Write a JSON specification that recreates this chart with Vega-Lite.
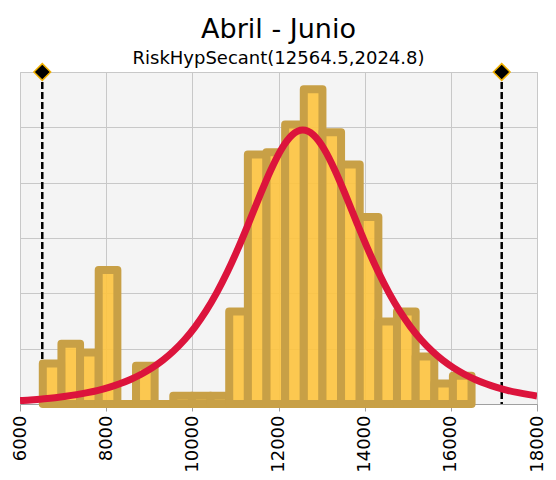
{
  "$schema": "https://vega.github.io/schema/vega-lite/v6.json",
  "autosize": "none",
  "width": 517,
  "height": 332,
  "padding": {"left": 20, "top": 72, "right": 19, "bottom": 76},
  "background": "white",
  "title": {
    "text": "Abril - Junio",
    "subtitle": "RiskHypSecant(12564.5,2024.8)",
    "font": "DejaVu Sans",
    "fontSize": 27,
    "fontWeight": "normal",
    "color": "black",
    "subtitleFont": "DejaVu Sans",
    "subtitleFontSize": 18,
    "subtitleColor": "black",
    "subtitlePadding": 6,
    "offset": -8,
    "anchor": "middle"
  },
  "config": {
    "view": {"fill": "#F4F4F4", "stroke": "#C8C8C8", "strokeWidth": 1},
    "axis": {"gridColor": "#C8C8C8", "gridWidth": 1, "gridOpacity": 1}
  },
  "datasets": {
    "bins": [
      {"b0": 6529, "b1": 6962, "v": 0.73},
      {"b0": 6962, "b1": 7394, "v": 1.09},
      {"b0": 7394, "b1": 7827, "v": 0.93},
      {"b0": 7827, "b1": 8260, "v": 2.42},
      {"b0": 8260, "b1": 8693, "v": 0},
      {"b0": 8693, "b1": 9125, "v": 0.69},
      {"b0": 9125, "b1": 9558, "v": 0},
      {"b0": 9558, "b1": 9991, "v": 0.15},
      {"b0": 9991, "b1": 10423, "v": 0.15},
      {"b0": 10423, "b1": 10856, "v": 0.15},
      {"b0": 10856, "b1": 11289, "v": 1.67},
      {"b0": 11289, "b1": 11721, "v": 4.51},
      {"b0": 11721, "b1": 12154, "v": 4.55},
      {"b0": 12154, "b1": 12587, "v": 5.05},
      {"b0": 12587, "b1": 13020, "v": 5.69},
      {"b0": 13020, "b1": 13452, "v": 4.91},
      {"b0": 13452, "b1": 13885, "v": 4.33},
      {"b0": 13885, "b1": 14318, "v": 3.38},
      {"b0": 14318, "b1": 14750, "v": 1.49},
      {"b0": 14750, "b1": 15183, "v": 1.67},
      {"b0": 15183, "b1": 15616, "v": 0.86},
      {"b0": 15616, "b1": 16048, "v": 0.37},
      {"b0": 16048, "b1": 16481, "v": 0.51}
    ],
    "curve": [
      {"x": 6000, "y": 0.061},
      {"x": 6064.5, "y": 0.064},
      {"x": 6314.5, "y": 0.078},
      {"x": 6564.5, "y": 0.094},
      {"x": 6814.5, "y": 0.114},
      {"x": 7064.5, "y": 0.139},
      {"x": 7314.5, "y": 0.169},
      {"x": 7564.5, "y": 0.205},
      {"x": 7814.5, "y": 0.248},
      {"x": 8064.5, "y": 0.301},
      {"x": 8314.5, "y": 0.366},
      {"x": 8564.5, "y": 0.444},
      {"x": 8814.5, "y": 0.538},
      {"x": 9064.5, "y": 0.652},
      {"x": 9314.5, "y": 0.790},
      {"x": 9564.5, "y": 0.957},
      {"x": 9814.5, "y": 1.156},
      {"x": 10064.5, "y": 1.395},
      {"x": 10314.5, "y": 1.677},
      {"x": 10564.5, "y": 2.008},
      {"x": 10814.5, "y": 2.389},
      {"x": 11064.5, "y": 2.817},
      {"x": 11314.5, "y": 3.282},
      {"x": 11564.5, "y": 3.761},
      {"x": 11814.5, "y": 4.216},
      {"x": 12064.5, "y": 4.600},
      {"x": 12314.5, "y": 4.858},
      {"x": 12564.5, "y": 4.950},
      {"x": 12814.5, "y": 4.858},
      {"x": 13064.5, "y": 4.600},
      {"x": 13314.5, "y": 4.216},
      {"x": 13564.5, "y": 3.761},
      {"x": 13814.5, "y": 3.282},
      {"x": 14064.5, "y": 2.817},
      {"x": 14314.5, "y": 2.389},
      {"x": 14564.5, "y": 2.008},
      {"x": 14814.5, "y": 1.677},
      {"x": 15064.5, "y": 1.395},
      {"x": 15314.5, "y": 1.156},
      {"x": 15564.5, "y": 0.957},
      {"x": 15814.5, "y": 0.790},
      {"x": 16064.5, "y": 0.652},
      {"x": 16314.5, "y": 0.538},
      {"x": 16564.5, "y": 0.444},
      {"x": 16814.5, "y": 0.366},
      {"x": 17064.5, "y": 0.301},
      {"x": 17314.5, "y": 0.248},
      {"x": 17564.5, "y": 0.205},
      {"x": 17814.5, "y": 0.169},
      {"x": 18000, "y": 0.146}
    ],
    "markers": [
      {"x": 6517},
      {"x": 17181}
    ]
  },
  "layer": [
    {
      "data": {"name": "markers"},
      "mark": {"type": "rule", "color": "black", "strokeWidth": 2.5, "strokeDash": [7, 3]},
      "encoding": {
        "x": {
          "field": "x",
          "type": "quantitative",
          "scale": {"domain": [6000, 18000], "nice": false, "zero": false},
          "axis": {
            "values": [6000, 8000, 10000, 12000, 14000, 16000, 18000],
            "labelAngle": -90,
            "labelFont": "DejaVu Sans",
            "labelFontSize": 18,
            "labelColor": "black",
            "labelPadding": 4,
            "labelFlush": false,
            "labelOverlap": false,
            "format": "d",
            "tickColor": "#A0A0A0",
            "tickSize": 7,
            "domainColor": "#A0A0A0",
            "title": null,
            "grid": true
          }
        }
      }
    },
    {
      "data": {"name": "bins"},
      "mark": {
        "type": "rect",
        "fill": "#FDC33E",
        "fillOpacity": 0.9,
        "stroke": "#C8A046",
        "strokeOpacity": 1,
        "strokeWidth": 8,
        "strokeJoin": "round"
      },
      "encoding": {
        "x": {"field": "b0", "type": "quantitative"},
        "x2": {"field": "b1"},
        "y": {
          "field": "v",
          "type": "quantitative",
          "scale": {"domain": [0, 6], "nice": false},
          "axis": {
            "values": [0, 1, 2, 3, 4, 5, 6],
            "labels": false,
            "ticks": false,
            "domain": false,
            "title": null,
            "grid": true
          }
        },
        "y2": {"datum": 0}
      }
    },
    {
      "data": {"name": "curve"},
      "mark": {"type": "line", "color": "#DC143C", "strokeWidth": 7, "interpolate": "monotone", "clip": true},
      "encoding": {
        "x": {"field": "x", "type": "quantitative"},
        "y": {"field": "y", "type": "quantitative"}
      }
    },
    {
      "data": {"name": "markers"},
      "mark": {"type": "point", "shape": "diamond", "filled": true, "fill": "black", "stroke": "#F0B000", "strokeWidth": 1.5, "size": 280, "opacity": 1},
      "encoding": {
        "x": {"field": "x", "type": "quantitative"},
        "y": {"datum": 6}
      }
    }
  ]
}
